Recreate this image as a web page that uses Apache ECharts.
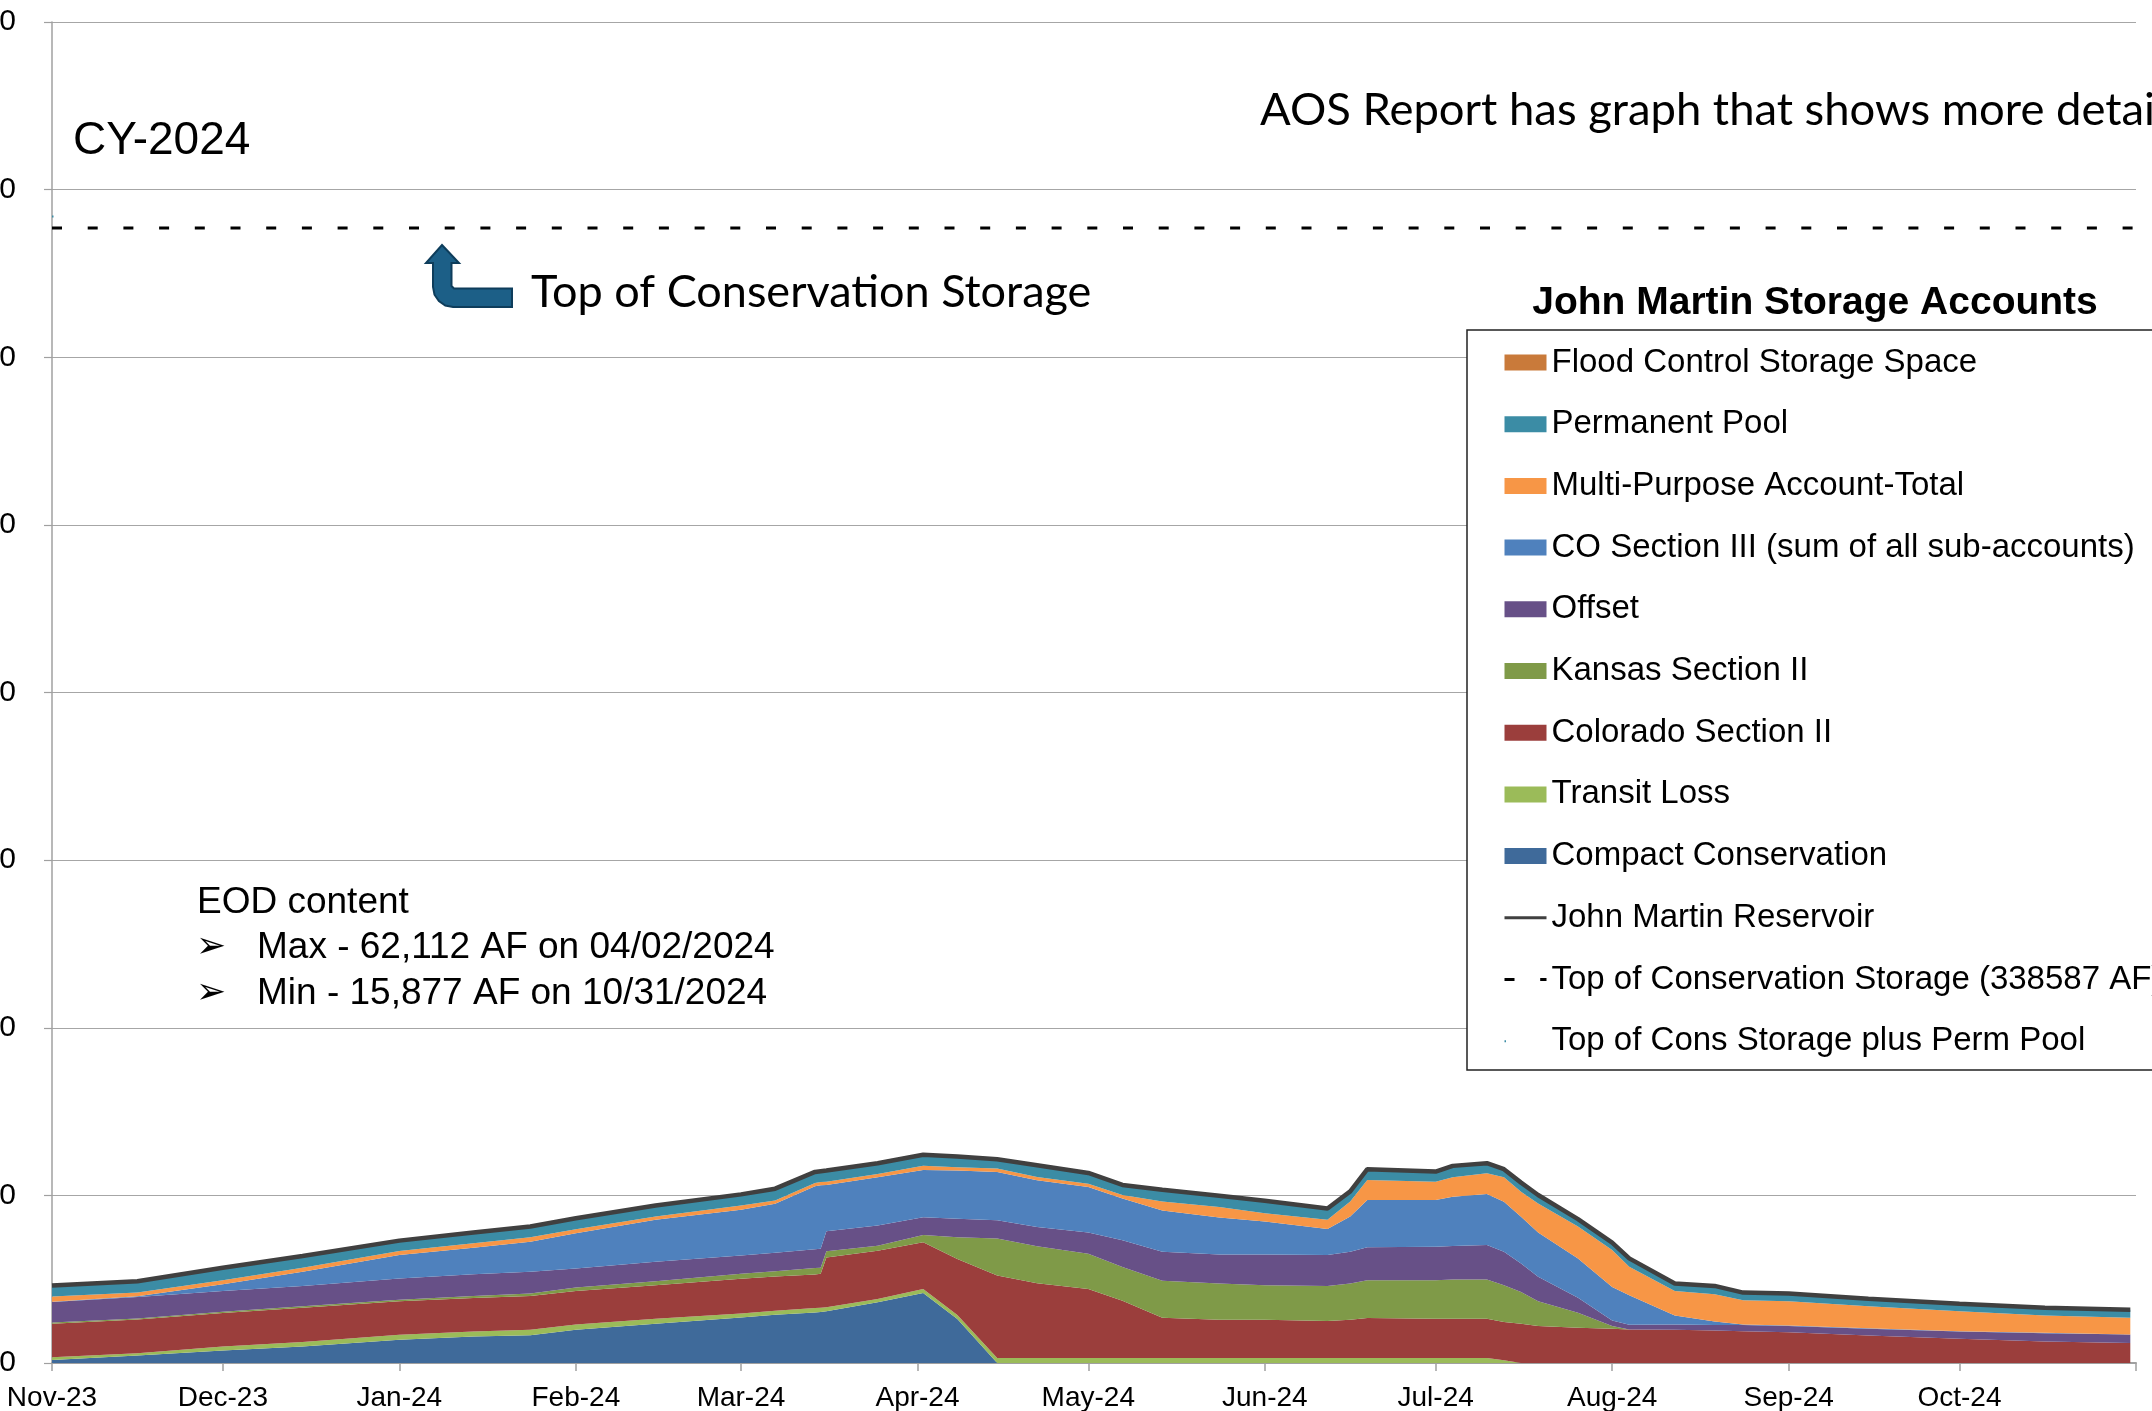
<!DOCTYPE html>
<html>
<head>
<meta charset="utf-8">
<script src="https://cdn.jsdelivr.net/npm/echarts@6/dist/echarts.min.js"></script>
<style>
html,body{margin:0;padding:0;background:#fff;}
#chart{width:2152px;height:1411px;}
</style>
</head>
<body>
<div id="chart"></div>
<script>
// ---- Data (acre-feet) ----
const dates = ['2023-11-01','2023-11-16','2023-12-01','2023-12-15','2024-01-01','2024-01-14','2024-01-24','2024-02-01','2024-02-15','2024-03-01',
  '2024-03-07','2024-03-14','2024-03-15','2024-03-16','2024-03-25','2024-04-02','2024-04-08','2024-04-15','2024-04-22','2024-05-01',
  '2024-05-07','2024-05-14','2024-05-24','2024-06-01','2024-06-12','2024-06-16','2024-06-19','2024-07-01','2024-07-04','2024-07-10',
  '2024-07-13','2024-07-16','2024-07-19','2024-07-26','2024-08-01','2024-08-04','2024-08-12','2024-08-19','2024-08-24','2024-09-01',
  '2024-09-15','2024-10-01','2024-10-16','2024-10-31'];

const compactConservation = [900,2200,3700,4900,6900,7900,8300,9900,11700,13600,
  14400,15100,15200,15400,18100,20900,13100,0,0,0,
  0,0,0,0,0,0,0,0,0,0,
  0,0,0,0,0,0,0,0,0,0,
  0,0,0,0];
const transitLoss = [800,700,1200,1400,1500,1500,1600,1600,1500,1200,
  1200,1300,1300,1200,1000,1200,1200,1500,1500,1500,
  1500,1500,1500,1500,1500,1500,1500,1500,1500,1500,
  800,0,0,0,0,0,0,0,0,0,
  0,0,0,0];
const coloradoSectionII = [10000,10100,10000,10200,10000,10000,10100,10000,10000,10300,
  10200,10000,10100,14900,14400,13900,16700,24600,22300,20600,
  17100,12000,11400,11400,11000,11400,11900,11700,11700,11700,
  11400,11700,11000,10500,10200,10000,9900,9700,9500,9200,
  8200,7200,6400,6000];
const kansasSectionII = [400,300,400,400,500,600,700,1000,1200,1500,
  1600,1900,1800,1800,1500,2200,6500,11000,11000,10500,
  10000,11000,10800,10300,10500,10800,11300,11500,11700,11700,
  11000,9500,7400,4500,800,0,0,0,0,0,
  0,0,0,0];
const offset = [6100,6400,6200,6100,6300,6500,6500,5700,5800,5500,
  5500,5600,5700,6000,6000,5300,5500,5500,5800,6300,
  8000,8700,8700,9200,9200,9500,9800,10000,10000,10300,
  10000,8500,7300,4500,1700,1400,1600,1600,1800,1800,
  2000,2200,2500,2500];
const coSectionIII = [100,200,2000,4200,7000,7900,9000,10500,12500,13600,
  14600,18800,18900,13800,14400,14100,14400,14400,13900,13600,
  12500,12300,11000,9800,7800,10500,14100,13900,14700,15200,
  14900,13900,13200,11700,10000,8800,2700,1100,200,200,
  200,100,100,0];
const multiPurpose = [1500,1100,1200,1200,1200,1300,1300,1200,1000,1300,
  1000,1000,1000,1000,1000,1200,1000,1000,1000,1000,
  1000,2700,3100,2500,2700,4500,6000,5500,5800,6200,
  7300,7500,8700,9500,11000,8500,7300,8100,7200,7200,
  6500,5900,5200,5000];
const permanentPool = [3300,3400,3700,3500,3100,3200,3200,3300,3300,3300,
  3500,3300,3200,3300,3200,3300,3200,2800,3500,3200,
  3000,3500,3400,3700,3400,3000,3200,3000,3400,3000,
  2400,2700,2500,2200,2200,2500,2200,2500,2300,2300,
  2300,2300,2300,2400];
const floodControl = [0,0,0,0,0,0,0,0,0,0,0,0,0,0,0,0,0,0,0,0,0,0,0,0,0,0,0,0,0,0,0,0,0,0,0,0,0,0,0,0,0,0,0,0];
const johnMartinReservoir = [23100,24400,28400,31900,36500,38900,40700,43200,47000,50300,
  52000,57000,57200,57400,59600,62100,61600,60800,59000,56700,
  53100,51700,49900,48400,46100,51200,57800,57100,58800,59600,
  57800,53800,50100,42900,35900,31200,23700,23000,21000,20700,
  19200,17700,16500,15900];
const topConservation = 338587;
const topConsPlusPermPool = 342000;
const yTicks = [0, 400000, 50000]; // min, max, step

const seriesNames = {
  flood: 'Flood Control Storage Space',
  perm: 'Permanent Pool',
  mp: 'Multi-Purpose Account-Total',
  co3: 'CO Section III (sum of all sub-accounts)',
  off: 'Offset',
  ks: 'Kansas Section II',
  co2: 'Colorado Section II',
  tl: 'Transit Loss',
  cc: 'Compact Conservation',
  jmr: 'John Martin Reservoir',
  top: 'Top of Conservation Storage (338587 AF)',
  topPP: 'Top of Cons Storage plus Perm Pool'
};
const monthNames = ['Jan','Feb','Mar','Apr','May','Jun','Jul','Aug','Sep','Oct','Nov','Dec'];

// ---- Chart ----
const xMin = new Date(2023, 10, 1).getTime();
const xMax = new Date(2024, 10, 1).getTime();
const pair = arr => dates.map((d, i) => [d, arr[i]]);
const ARIAL = '"Liberation Sans", Arial, sans-serif';

function areaSeries(name, arr, color) {
  return {
    name: name, type: 'line', stack: 'acc', data: pair(arr), symbol: 'none',
    color: color, lineStyle: { width: 0 }, areaStyle: { color: color, opacity: 1 },
    z: 2, silent: true
  };
}

const chart = echarts.init(document.getElementById('chart'), null, { renderer: 'canvas' });
chart.setOption({
  animation: false,
  backgroundColor: '#ffffff',
  grid: { left: 52, right: 16, top: 22, bottom: 48, containLabel: false, outerBoundsMode: 'none' },
  xAxis: {
    type: 'time', min: xMin, max: xMax, splitNumber: 12,
    axisLine: { show: true, lineStyle: { color: '#a0a0a0', width: 2 } },
    axisTick: { show: true, length: 8, lineStyle: { color: '#a0a0a0', width: 1.5 } },
    splitLine: { show: false },
    axisLabel: {
      margin: 21, fontSize: 28, fontFamily: ARIAL, color: '#000',
      showMaxLabel: false,
      formatter: function (v) {
        if (v >= xMax - 86400000) return '';
        const d = new Date(v);
        return monthNames[d.getMonth()] + '-' + String(d.getFullYear()).slice(2);
      }
    }
  },
  yAxis: {
    type: 'value', min: yTicks[0], max: yTicks[1], interval: yTicks[2],
    axisLine: { show: true, lineStyle: { color: '#a0a0a0', width: 1.5 } },
    axisTick: { show: true, length: 8, lineStyle: { color: '#a0a0a0', width: 1.2 } },
    splitLine: { show: true, lineStyle: { color: '#a6a6a6', width: 1.2 } },
    axisLabel: {
      margin: 36, fontSize: 30, fontFamily: ARIAL, color: '#000',
      formatter: function (v) { return v.toLocaleString('en-US'); }
    }
  },
  legend: {
    orient: 'vertical', left: 1498, top: 341,
    itemWidth: 42, itemHeight: 16, itemGap: 28.7,
    selectedMode: false,
    textStyle: { fontFamily: ARIAL, fontSize: 33, color: '#000' },
    data: [
      { name: seriesNames.flood, icon: 'rect' },
      { name: seriesNames.perm, icon: 'rect' },
      { name: seriesNames.mp, icon: 'rect' },
      { name: seriesNames.co3, icon: 'rect' },
      { name: seriesNames.off, icon: 'rect' },
      { name: seriesNames.ks, icon: 'rect' },
      { name: seriesNames.co2, icon: 'rect' },
      { name: seriesNames.tl, icon: 'rect' },
      { name: seriesNames.cc, icon: 'rect' },
      { name: seriesNames.jmr, itemStyle: { opacity: 0 }, lineStyle: { width: 3 } },
      { name: seriesNames.top, itemStyle: { opacity: 0 }, lineStyle: { width: 3 } },
      { name: seriesNames.topPP, itemStyle: { opacity: 0 } }
    ]
  },
  graphic: [
    { type: 'rect', z: 3, shape: { x: 1467, y: 330, width: 800, height: 740 },
      style: { fill: '#ffffff', stroke: '#222222', lineWidth: 1.5 } },
    { type: 'text', x: 73, y: 141, style: { text: 'CY-2024', font: '46px ' + ARIAL, fill: '#000', verticalAlign: 'middle' } },
    { type: 'text', x: 1260, y: 110, style: { text: 'AOS Report has graph that shows more detail', font: '45.4px Lato, sans-serif', fill: '#000', verticalAlign: 'middle' } },
    { type: 'polygon', z: 6,
      shape: { points: [[442,245],[459,263],[451.5,263],[451.5,286],[454,288.5],[512,288.5],[512,307],[453,307],[445.3,305.5],[438.9,301.1],[434.5,294.7],[433,287],[433,263],[426,263]] },
      style: { fill: '#1c5f87', stroke: '#0e3d5b', lineWidth: 2 } },
    { type: 'text', x: 531, y: 292, style: { text: 'Top of Conservation Storage', font: '45px Lato, sans-serif', fill: '#000', verticalAlign: 'middle' } },
    { type: 'text', x: 1815, y: 303, style: { text: 'John Martin Storage Accounts', font: 'bold 39px ' + ARIAL, fill: '#000', align: 'center', verticalAlign: 'middle' } },
    { type: 'text', x: 197, y: 903, style: { text: 'EOD content', font: '37px ' + ARIAL, fill: '#000', verticalAlign: 'middle' } },
    { type: 'text', x: 196, y: 948, style: { text: '\u27A2', font: '36px "DejaVu Sans"', fill: '#000', verticalAlign: 'middle' } },
    { type: 'text', x: 257, y: 948, style: { text: 'Max - 62,112 AF on 04/02/2024', font: '37px ' + ARIAL, fill: '#000', verticalAlign: 'middle' } },
    { type: 'text', x: 196, y: 994, style: { text: '\u27A2', font: '36px "DejaVu Sans"', fill: '#000', verticalAlign: 'middle' } },
    { type: 'text', x: 257, y: 994, style: { text: 'Min - 15,877 AF on 10/31/2024', font: '37px ' + ARIAL, fill: '#000', verticalAlign: 'middle' } }
  ],
  series: [
    areaSeries(seriesNames.cc, compactConservation, '#3f6a9a'),
    areaSeries(seriesNames.tl, transitLoss, '#9bbb59'),
    areaSeries(seriesNames.co2, coloradoSectionII, '#9b3e3c'),
    areaSeries(seriesNames.ks, kansasSectionII, '#7f9a48'),
    areaSeries(seriesNames.off, offset, '#675087'),
    areaSeries(seriesNames.co3, coSectionIII, '#4f81bd'),
    areaSeries(seriesNames.mp, multiPurpose, '#f79646'),
    areaSeries(seriesNames.perm, permanentPool, '#3b8ca5'),
    areaSeries(seriesNames.flood, floodControl, '#c97a3a'),
    { name: seriesNames.jmr, type: 'line', data: pair(johnMartinReservoir), symbol: 'none',
      color: '#404040', lineStyle: { width: 4.5, color: '#404040' }, z: 5, silent: true },
    { name: seriesNames.top, type: 'line', data: [[xMin, topConservation], [xMax, topConservation]], symbol: 'none',
      color: '#000000', lineStyle: { width: 3, color: '#000000', type: [10, 25.7] }, z: 4, silent: true },
    { name: seriesNames.topPP, type: 'line', data: [[xMin, topConsPlusPermPool], [xMax, topConsPlusPermPool]], symbol: 'none',
      color: '#3b8ca5', lineStyle: { width: 2, color: '#3b8ca5', type: [1.5, 4000] }, z: 4, silent: true }
  ]
});
</script>
</body>
</html>
